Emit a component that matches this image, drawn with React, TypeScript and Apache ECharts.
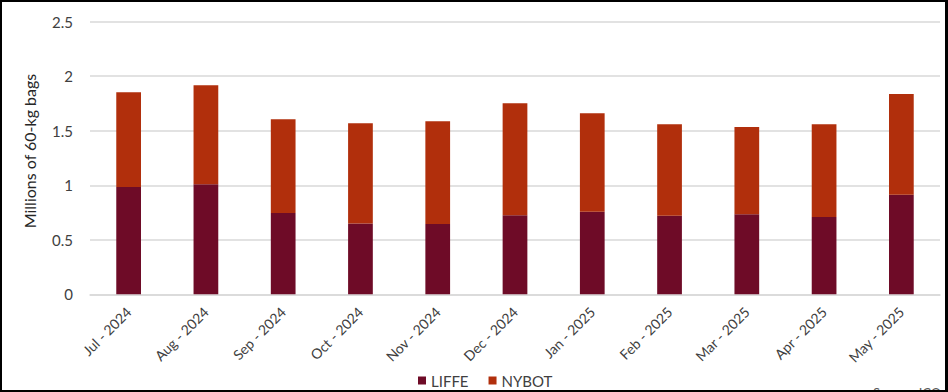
import React, { useEffect, useRef } from "react";
import * as echarts from "echarts";

const categories = [
  "Jul - 2024", "Aug - 2024", "Sep - 2024", "Oct - 2024", "Nov - 2024", "Dec - 2024",
  "Jan - 2025", "Feb - 2025", "Mar - 2025", "Apr - 2025", "May - 2025",
];
const liffe = [0.983, 1.01, 0.745, 0.65, 0.644, 0.726, 0.757, 0.72, 0.735, 0.71, 0.912];
const nybot = [0.87, 0.907, 0.86, 0.919, 0.943, 1.026, 0.903, 0.84, 0.8, 0.85, 0.925];
const yTicks = { min: 0, max: 2.5, interval: 0.5 };
const yTitle = "Millions of 60-kg bags";
const source = "Source: ICO";

const FONT = "Lato, 'Noto Sans', sans-serif";

export default function App() {
  const ref = useRef<HTMLDivElement>(null);
  useEffect(() => {
    document.body.style.margin = "0";
    const chart = echarts.init(ref.current!, null, { renderer: "svg" });
    chart.setOption({
      animation: false,
      textStyle: { fontFamily: FONT },
      grid: { left: 88, right: 5, top: 19.7, bottom: 95.7, containLabel: false },
      legend: {
        left: 411,
        top: 366,
        itemWidth: 8,
        itemHeight: 8,
        itemGap: 20,
        icon: "rect",
        textStyle: { fontFamily: FONT, fontSize: 15, color: "#404040" },
        data: ["LIFFE", "NYBOT"],
      },
      xAxis: {
        type: "category",
        data: categories,
        axisLine: { lineStyle: { color: "#d9d9d9", width: 1.5 } },
        axisTick: { show: false },
        axisLabel: {
          rotate: 45,
          interval: 0,
          margin: 15,
          fontFamily: FONT,
          fontSize: 14,
          color: "#404040",
        },
      },
      yAxis: {
        type: "value",
        min: yTicks.min,
        max: yTicks.max,
        interval: yTicks.interval,
        axisLine: { show: false },
        axisTick: { show: false },
        splitLine: { lineStyle: { color: "#d9d9d9", width: 1.5 } },
        axisLabel: { margin: 17, fontFamily: FONT, fontSize: 15, color: "#404040" },
      },
      graphic: [
        {
          type: "text",
          x: 27,
          y: 149,
          rotation: Math.PI / 2,
          style: {
            text: yTitle,
            fontFamily: FONT,
            fontSize: 16,
            fill: "#262626",
            textAlign: "center",
            textVerticalAlign: "middle",
          },
        },
        {
          type: "text",
          x: 871,
          y: 384,
          style: {
            text: source,
            fontFamily: FONT,
            fontSize: 13,
            fill: "#595959",
            textVerticalAlign: "top",
          },
        },
      ],
      series: [
        {
          name: "LIFFE",
          type: "bar",
          stack: "total",
          barWidth: "32%",
          data: liffe,
          itemStyle: { color: "#6e0b27" },
        },
        {
          name: "NYBOT",
          type: "bar",
          stack: "total",
          barWidth: "32%",
          data: nybot,
          itemStyle: { color: "#b12f0c" },
        },
      ],
    });
    return () => chart.dispose();
  }, []);
  return (
    <div
      style={{
        position: "absolute",
        left: 0,
        top: 0,
        width: 948,
        height: 392,
        boxSizing: "border-box",
        borderStyle: "solid",
        borderColor: "#000",
        borderWidth: "2px 3px 2px 2px",
        background: "#fff",
        overflow: "hidden",
      }}
    >
      <div ref={ref} style={{ width: 943, height: 388 }} />
    </div>
  );
}
